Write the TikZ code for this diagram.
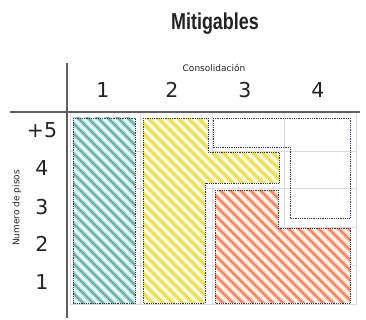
\documentclass[tikz,border=0pt]{standalone}
\usepackage{fontspec}
\setmainfont{DejaVu Sans}
\newfontfamily\titlefont[FakeStretch=0.78]{Liberation Sans}
\usetikzlibrary{positioning}
\definecolor{gridgray}{RGB}{218,218,218}
\definecolor{axisgray}{RGB}{95,95,95}
\definecolor{dotline}{RGB}{55,55,75}
\definecolor{inkgray}{RGB}{35,35,35}
\definecolor{cyanbg}{RGB}{236,252,249}
\definecolor{cyanhalo}{RGB}{160,230,222}
\definecolor{cyancore}{RGB}{125,165,160}
\definecolor{yelbg}{RGB}{254,253,232}
\definecolor{yelhalo}{RGB}{246,238,135}
\definecolor{yelcore}{RGB}{230,220,100}
\definecolor{redbg}{RGB}{253,244,230}
\definecolor{redhalo}{RGB}{246,200,170}
\definecolor{redcore}{RGB}{236,132,115}
\tikzset{
  gridline/.style={draw=gridgray, line width=0.6pt},
  axisline/.style={draw=axisgray, line width=1.3pt},
  outline/.style={draw=dotline, densely dotted, line width=0.8pt},
  numtext/.style={font=\fontsize{20.5}{22}\selectfont, text=inkgray, inner sep=0pt},
  smalltext/.style={font=\fontsize{9}{10}\selectfont, text=inkgray, inner sep=0pt},
  titletext/.style={font=\titlefont\bfseries\fontsize{23}{25}\selectfont, text=inkgray, inner sep=0pt}
}
% striped fill clipped to a region: path, background, halo, core
\newcommand{\hatchfill}[4]{%
  \begin{scope}
    \clip #1;
    \fill[#2] (60,100) rectangle (366,320);
    \foreach \k in {-25,...,40}{
      \draw[#3, line width=4.4pt] (\k*10,100) -- ++(230,230);
      \draw[#4, line width=1.9pt] (\k*10,100) -- ++(230,230);}
  \end{scope}
  \draw[outline] #1;}

\begin{document}
\begin{tikzpicture}[x=1pt, y=-1pt]
  \useasboundingbox (0,0) rectangle (366,320);
  % light grid
  \foreach \x in {70,140,212,284,356}{\draw[gridline] (\x,113) -- (\x,305);}
  \foreach \y in {151,188,227,265,304}{\draw[gridline] (70,\y) -- (356,\y);}
  % axes
  \draw[axisline] (10,112) -- (360,112);
  \draw[axisline] (67,63) -- (67,318);
  % zones
  \hatchfill{(73,118) rectangle (135,303)}{cyanbg}{cyanhalo}{cyancore}
  \hatchfill{(143,118) -- (208,118) -- (208,152) -- (279,152) -- (279,183) -- (205,183) -- (205,303) -- (143,303) -- cycle}{yelbg}{yelhalo}{yelcore}
  \hatchfill{(215,190) -- (278,190) -- (278,228) -- (350,228) -- (350,303) -- (215,303) -- cycle}{redbg}{redhalo}{redcore}
  \draw[outline] (213,118) -- (350,118) -- (350,218) -- (290,218) -- (290,147) -- (213,147) -- cycle;
  % labels
  \node[titletext] (title) at (215,24) {Mitigables};
  \node[smalltext] (consol) at (214,68) {Consolidación};
  \foreach \x/\n in {103/1,172/2,245/3,318/4}{
    \node[numtext, anchor=base] (col\n) at (\x,98) {\n};}
  \foreach \y/\n/\t in {130/5/{+5},168/4/4,207/3/3,244/2/2,282/1/1}{
    \node[numtext] (row\n) at (42,\y) {\t};}
  \node[smalltext, rotate=90] (pisos) at (17,208) {Numero de pisos};
\end{tikzpicture}
\end{document}
